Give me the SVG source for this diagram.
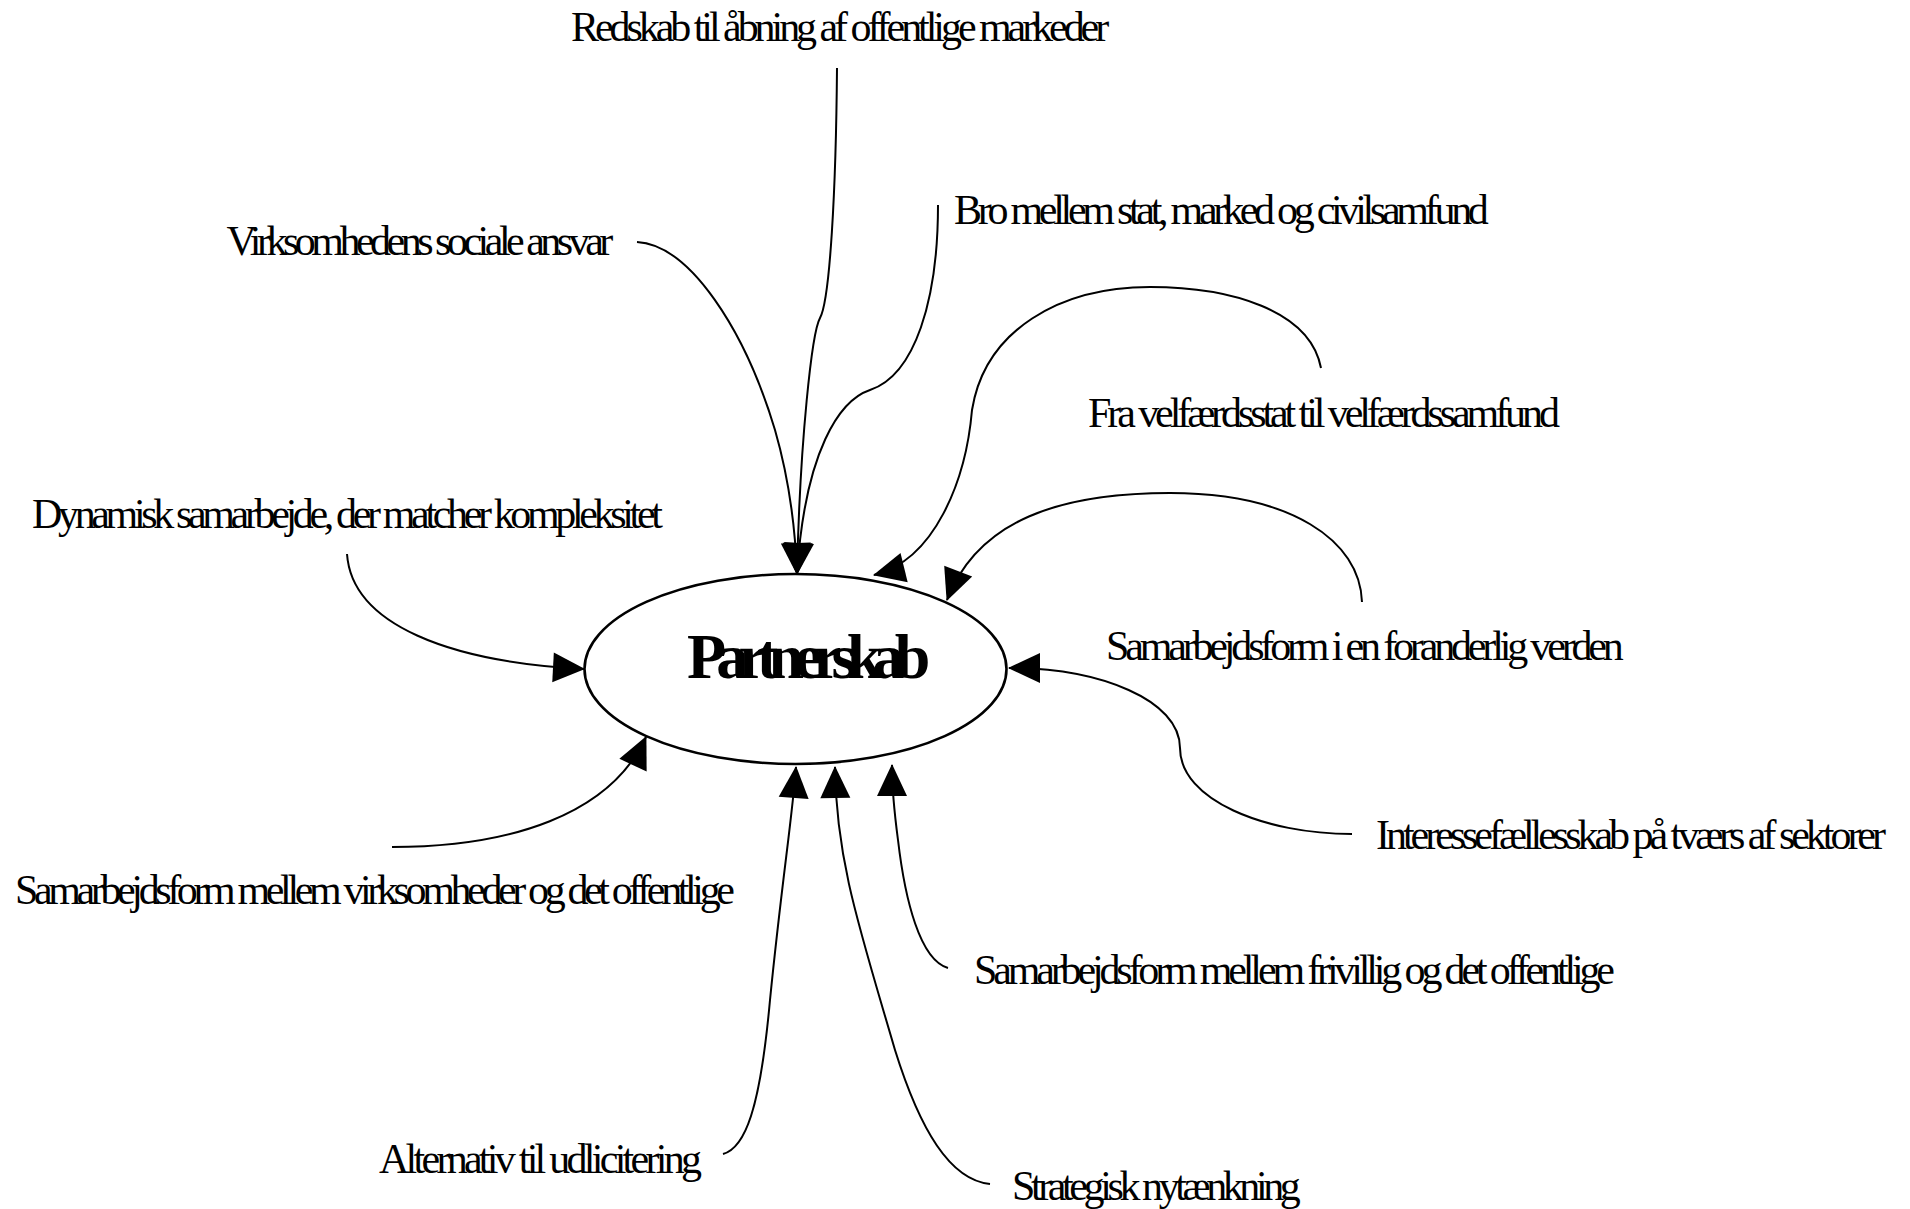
<svg xmlns="http://www.w3.org/2000/svg" width="1910" height="1209" viewBox="0 0 1910 1209">
<style>
.lbl{font-family:"Liberation Serif","Times New Roman",serif;font-size:42px;fill:#000}
.hub{font-family:"Liberation Serif","Times New Roman",serif;font-size:64px;font-weight:bold;fill:#000}
.edge{fill:none;stroke:#000;stroke-width:2;marker-end:url(#ah)}
.shape{fill:#fff;stroke:#000;stroke-width:2.6}
</style>
<defs>
<marker id="ah" markerUnits="userSpaceOnUse" markerWidth="32" markerHeight="30" refX="31" refY="15" orient="auto" overflow="visible">
<path d="M0,0 L32,15 L0,30 z" fill="#000"/>
</marker>
</defs>
<rect width="1910" height="1209" fill="#fff"/>
<g id="connectors">
<path id="e-redskab" class="edge" d="M837,68 C836,190 830,300 820,318 C812,332 800,440 797,574"/>
<path id="e-virksomhed" class="edge" d="M637,242 C690,245 745,330 775,430 C788,475 795,520 797,574"/>
<path id="e-bro" class="edge" d="M938,205 C938,300 915,375 870,390 C840,400 805,450 797,574"/>
<path id="e-velfaerd" class="edge" d="M1321,368 C1310,310 1230,287 1150,287 C1060,287 985,330 972,410 C966,480 935,560 874,575"/>
<path id="e-foranderlig" class="edge" d="M1362,602 C1360,540 1290,493 1170,493 C1060,493 978,520 947,600"/>
<path id="e-dynamisk" class="edge" d="M347,554 C352,625 450,662 584,669"/>
<path id="e-interesse" class="edge" d="M1352,834 C1265,834 1180,800 1180,748 C1180,700 1100,668 1009,668"/>
<path id="e-virk-off" class="edge" d="M392,847 C510,847 610,815 646,737"/>
<path id="e-alternativ" class="edge" d="M723,1154 C745,1148 760,1110 770,1000 C782,880 792,820 796,767"/>
<path id="e-strategisk" class="edge" d="M990,1184 C950,1180 920,1130 895,1050 C860,930 836,860 835,767"/>
<path id="e-frivillig" class="edge" d="M948,968 C920,960 905,900 898,840 C894,810 892,790 892,765"/>
</g>
<g id="partnerskab">
<ellipse class="shape" cx="795.5" cy="669" rx="211" ry="95"/>
<text class="hub" x="687" y="678" letter-spacing="-9.8">Partnerskab</text>
</g>
<g id="redskab"><text class="lbl" x="571" y="41" letter-spacing="-4.05">Redskab til åbning af offentlige markeder</text></g>
<g id="bro"><text class="lbl" x="954" y="224" letter-spacing="-4.28">Bro mellem stat, marked og civilsamfund</text></g>
<g id="virksomhedens"><text class="lbl" x="226.5" y="255" letter-spacing="-4.5">Virksomhedens sociale ansvar</text></g>
<g id="velfaerd"><text class="lbl" x="1088" y="427" letter-spacing="-4.08">Fra velfærdsstat til velfærdssamfund</text></g>
<g id="dynamisk"><text class="lbl" x="32" y="528" letter-spacing="-4.35">Dynamisk samarbejde, der matcher kompleksitet</text></g>
<g id="foranderlig"><text class="lbl" x="1106" y="660" letter-spacing="-4.16">Samarbejdsform i en foranderlig verden</text></g>
<g id="interesse"><text class="lbl" x="1376" y="849" letter-spacing="-4.03">Interessefællesskab på tværs af sektorer</text></g>
<g id="virk-off"><text class="lbl" x="15" y="904" letter-spacing="-4.37">Samarbejdsform mellem virksomheder og det offentlige</text></g>
<g id="frivillig"><text class="lbl" x="974" y="984" letter-spacing="-4.15">Samarbejdsform mellem frivillig og det offentlige</text></g>
<g id="alternativ"><text class="lbl" x="379" y="1173" letter-spacing="-3.73">Alternativ til udlicitering</text></g>
<g id="strategisk"><text class="lbl" x="1012" y="1200" letter-spacing="-4.4">Strategisk nytænkning</text></g>
</svg>
